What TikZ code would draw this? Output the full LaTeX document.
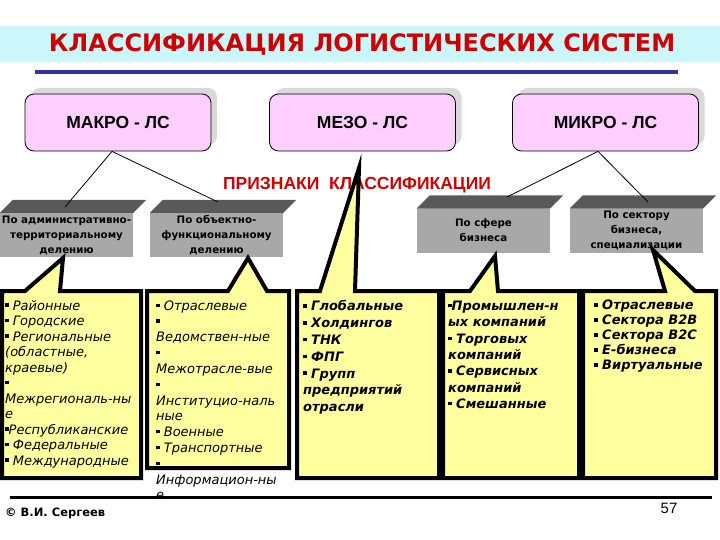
\documentclass[tikz,border=0pt]{standalone}
\usepackage{fontspec}
\setmainfont{Liberation Sans}
\newfontfamily\dejavu{DejaVu Sans}
\usetikzlibrary{shadows}
\definecolor{titlered}{RGB}{204,0,0}
\definecolor{band}{RGB}{204,247,250}
\definecolor{navy}{RGB}{51,51,153}
\definecolor{pinkbox}{RGB}{255,208,255}
\definecolor{shade}{RGB}{217,217,217}
\definecolor{frontgray}{RGB}{168,168,168}
\definecolor{topgray}{RGB}{89,89,89}
\definecolor{callout}{RGB}{255,255,160}
\newcommand\sqb{\rule[0.45ex]{3.5pt}{3.5pt}}
\begin{document}
\begin{tikzpicture}[x=1pt,y=-1pt,
  titletext/.style={text=titlered, font=\dejavu\bfseries\fontsize{24}{29}\selectfont, inner sep=0},
  topbox/.style={draw=black, line width=0.8pt, fill=pinkbox, rounded corners=9pt,
     minimum width=186pt, minimum height=57pt, font=\bfseries\fontsize{17.5}{20}\selectfont,
     general shadow={fill=shade, shadow xshift=6pt, shadow yshift=6pt}},
  frontbox/.style={fill=frontgray, minimum width=133pt, minimum height=44pt, inner sep=1pt,
     align=center, font=\dejavu\bfseries\fontsize{10.3}{15}\selectfont},
  topface/.style={fill=topgray},
  conn/.style={draw=black, line width=0.8pt},
  callbox/.style={fill=callout, draw=black, line width=4pt, line join=miter},
  calltext/.style={anchor=north west, inner sep=0, align=left},
  redlabel/.style={text=titlered, font=\bfseries\fontsize{17.5}{20}\selectfont, inner sep=0}
]
\useasboundingbox (0,0) rectangle (720,540);

% title
\fill[band] (0,26) rectangle (720,62);
\node[titletext] (title) at (362,44) {КЛАССИФИКАЦИЯ ЛОГИСТИЧЕСКИХ СИСТЕМ};
\draw[navy, line width=4pt] (35,72) -- (678,72);

% top level boxes
\node[topbox] (macro) at (118,122.5) {МАКРО - ЛС};
\node[topbox] (meso)  at (362.5,122.5) {МЕЗО - ЛС};
\node[topbox] (micro) at (605.5,122.5) {МИКРО - ЛС};

% grey prisms
\node[frontbox] (g1) at (66.5,235) {По административно-\\территориальному\\делению};
\node[frontbox] (g2) at (216.5,235) {По объектно-\\функциональному\\делению};
\node[frontbox] (g3) at (483.5,230.5) {По сфере\\бизнеса};
\node[frontbox] (g4) at (636.5,230.5) {По сектору\\бизнеса,\\специализации};
\foreach \g in {g1,g2,g3,g4}
  \fill[topface] (\g.north west) -- ++(13,-13) -- ([shift={(13pt,13pt)}]\g.north east) -- (\g.north east) -- cycle;

% connectors
\coordinate (g1top) at (65,207);
\coordinate (g2top) at (218,202);
\coordinate (g3top) at (507,197);
\coordinate (g4top) at (648,202);
\draw[conn] ([xshift=-6pt]macro.south) -- (g1top);
\draw[conn] ([xshift=-6pt]macro.south) -- (g2top);
\draw[conn] ([xshift=-7.5pt]micro.south) -- (g3top);
\draw[conn] ([xshift=-7.5pt]micro.south) -- (g4top);

\node[redlabel] (signs) at (357,185) {ПРИЗНАКИ\ \ КЛАССИФИКАЦИИ};

% callouts
\path[callbox] (2,291) -- (25,291) -- (63,258) -- (60,291) -- (141,291) -- (141,478) -- (2,478) -- cycle;
\path[callbox] (147,291) -- (228,291) -- (248,258) -- (267,291) -- (289,291) -- (289,468) -- (147,468) -- cycle;
\path[callbox] (297,291) -- (320,291) -- (359,168) -- (355,291) -- (439,291) -- (439,478) -- (297,478) -- cycle;
\path[callbox] (443,291) -- (470,291) -- (495,256) -- (498,291) -- (579,291) -- (579,478) -- (443,478) -- cycle;
\path[callbox] (583,291) -- (665,291) -- (653,250) -- (695,291) -- (716,291) -- (716,478) -- (583,478) -- cycle;

\node[calltext, font=\dejavu\itshape\fontsize{13}{15.5}\selectfont] (t1) at (5,299)
 {\strut\sqb\ Районные\\ \sqb\ Городские\\ \sqb\ Региональные\\ (областные,\\ краевые)\\ \sqb\\ Межрегиональ-ны\\ е\\ \sqb Республиканские\\ \sqb\ Федеральные\\ \sqb\ Международные};
\node[calltext, font=\dejavu\itshape\fontsize{13}{15.8}\selectfont] (t2) at (156,299)
 {\strut\sqb\ Отраслевые\\ \sqb\\ Ведомствен-ные\\ \sqb\\ Межотрасле-вые\\ \sqb\\ Институцио-наль\\ ные\\ \sqb\ Военные\\ \sqb\ Транспортные\\ \sqb\\ Информацион-ны\\ е};
\node[calltext, font=\dejavu\bfseries\itshape\fontsize{13}{16.8}\selectfont] (t3) at (303,299)
 {\strut\sqb\ Глобальные\\ \sqb\ Холдингов\\ \sqb\ ТНК\\ \sqb\ ФПГ\\ \sqb\ Групп\\ предприятий\\ отрасли};
\node[calltext, font=\dejavu\bfseries\itshape\fontsize{13}{16.3}\selectfont] (t4) at (448,299)
 {\strut\sqb Промышлен-н\\ ых компаний\\ \sqb\ Торговых\\ компаний\\ \sqb\ Сервисных\\ компаний\\ \sqb\ Смешанные};
\node[calltext, font=\dejavu\bfseries\itshape\fontsize{13}{15}\selectfont] (t5) at (594,299)
 {\strut\sqb\ Отраслевые\\ \sqb\ Сектора B2B\\ \sqb\ Сектора B2C\\ \sqb\ E-бизнеса\\ \sqb\ Виртуальные};

% footer
\draw[line width=3pt] (10,497) -- (712,497);
\node[font=\dejavu\bfseries\fontsize{11.5}{14}\selectfont, anchor=west, inner sep=0] (author) at (5,513) {© В.И. Сергеев};
\node[font=\fontsize{15}{18}\selectfont, inner sep=0] (page) at (669,508) {57};
\end{tikzpicture}
\end{document}
